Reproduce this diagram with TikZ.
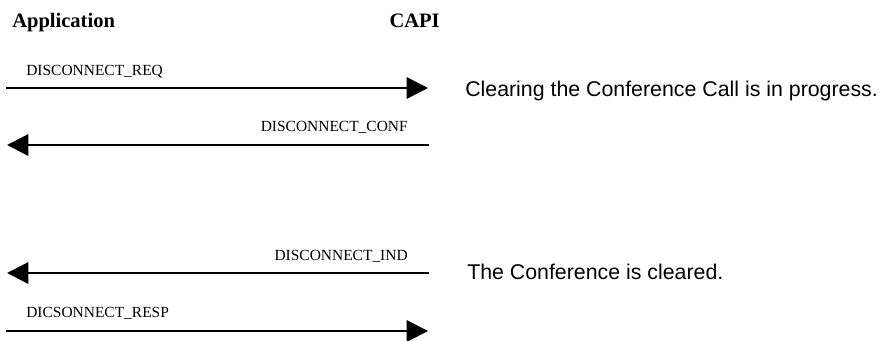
\documentclass[tikz,border=0pt]{standalone}
\usepackage{fontspec}
\setmainfont{Liberation Serif}
\newfontfamily\notefont{Liberation Sans}
\usetikzlibrary{arrows.meta, positioning}
\tikzset{
  >=latex,
  % Intestazioni e messaggi
  head/.style={font=\fontsize{15.4}{18}\selectfont\bfseries,inner sep=0},
  msg label/.style={font=\fontsize{11.6}{14}\selectfont,inner sep=0},
  note/.style={font=\notefont\fontsize{16}{19}\selectfont,inner sep=0},
  msg arrow/.style={line width=1.7pt,-{Triangle[length=16pt,width=16pt]}}
}

\begin{document}
\begin{tikzpicture}[x=0.75pt,y=-0.75pt]
  \useasboundingbox (0,0) rectangle (882,340);
  % Intestazioni
  \node[head,anchor=base west] (app) at (12,27) {Application};
  \node[head,anchor=base east] (capi) at (440,27) {CAPI};
  % Estremi delle frecce
  \coordinate (a1) at (6,88);   \coordinate (c1) at (428,88);
  \coordinate (a2) at (7,145);  \coordinate (c2) at (429,145);
  \coordinate (a3) at (7,273);  \coordinate (c3) at (429,273);
  \coordinate (a4) at (6,331);  \coordinate (c4) at (428,331);
  % Messaggi
  \draw[msg arrow] (a1) -- (c1);
  \node[msg label,anchor=base west] (req) at (26,75) {DISCONNECT\_REQ};
  \draw[msg arrow] (c2) -- (a2);
  \node[msg label,anchor=base east] (conf) at (408,131) {DISCONNECT\_CONF};
  \draw[msg arrow] (c3) -- (a3);
  \node[msg label,anchor=base east] (ind) at (408,260) {DISCONNECT\_IND};
  \draw[msg arrow] (a4) -- (c4);
  \node[msg label,anchor=base west] (resp) at (26,317) {DICSONNECT\_RESP};
  % Note
  \node[note,anchor=base west] (progress) at (465,96) {Clearing the Conference Call is in progress.};
  \node[note,anchor=base west] (cleared) at (467,279) {The Conference is cleared.};
\end{tikzpicture}
\end{document}
